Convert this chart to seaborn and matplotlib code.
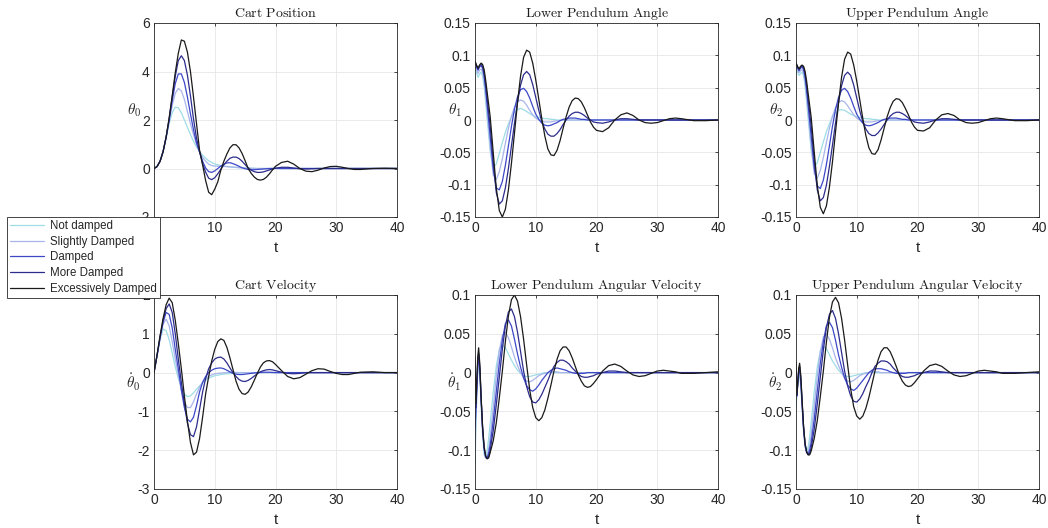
import matplotlib
matplotlib.use("Agg")
import matplotlib.pyplot as plt
import pandas as pd
import seaborn as sns
from matplotlib.lines import Line2D

# ---------------- data ----------------
SERIES = ["Not damped", "Slightly Damped", "Damped", "More Damped", "Excessively Damped"]
COLORS = ["#9fdde6", "#a9b5ea", "#3d48c8", "#2c2c8c", "#1a1a1a"]

X_TICKS = [0, 10, 20, 30, 40]

# time grids
T_CART = [0, 0.5, 1, 1.5, 2, 2.5, 3, 3.5, 4, 4.5, 5, 5.5, 6, 6.5, 7, 7.5, 8, 8.5, 9, 9.5, 10,
          10.5, 11, 11.5, 12, 12.5, 13, 13.5, 14, 14.5, 15, 15.5, 16, 16.5, 17, 17.5, 18,
          18.5, 19, 19.5, 20,
          21, 22, 23, 24, 25, 26, 27, 28, 29, 30, 31, 32, 33, 34,
          36, 38, 40]
T_ANG = [0, 0.25, 0.5, 0.75, 1, 1.25, 1.5, 1.75, 2, 2.5, 3, 3.5, 4, 4.5, 5, 5.5, 6, 6.5, 7,
         7.5, 8, 8.5, 9, 9.5, 10,
         10.5, 11, 11.5, 12, 12.5, 13, 13.5, 14, 14.5, 15, 15.5, 16, 16.5, 17, 17.5, 18,
         18.5, 19, 19.5, 20,
         21, 22, 23, 24, 25, 26, 27, 28, 29, 30, 31, 32, 33, 34,
         36, 38, 40]
T_RATE = [0, 0.15, 0.3, 0.45, 0.6, 0.8, 1, 1.25, 1.5, 1.75, 2, 2.25, 2.5,
          3, 3.5, 4, 4.5, 5, 5.5, 6, 6.5, 7, 7.5, 8, 8.5, 9, 9.5, 10,
          10.5, 11, 11.5, 12, 12.5, 13, 13.5, 14, 14.5, 15, 15.5, 16, 16.5, 17, 17.5, 18,
          18.5, 19, 19.5, 20,
          21, 22, 23, 24, 25, 26, 27, 28, 29, 30, 31, 32, 33, 34,
          36, 38, 40]

# Cart position theta_0
POS_ND = [0, 0.08, 0.3, 0.7, 1.25, 1.85, 2.3, 2.53, 2.5, 2.3, 2.0, 1.7, 1.4, 1.12, 0.88, 0.7,
          0.55, 0.42, 0.32, 0.25, 0.19,
          0.15, 0.12, 0.1, 0.08, 0.065, 0.05, 0.04, 0.03, 0.025, 0.02, 0.015, 0.01, 0.005,
          0, 0, 0, 0, 0, 0, 0,
          0, 0, 0, 0, 0, 0, 0, 0, 0, 0, 0, 0, 0, 0,
          0, 0, 0]
POS_SD = [0, 0.08, 0.3, 0.7, 1.28, 1.95, 2.6, 3.1, 3.3, 3.2, 2.85, 2.35, 1.85, 1.4, 1.0, 0.68,
          0.45, 0.3, 0.18, 0.12, 0.1,
          0.095, 0.09, 0.085, 0.08, 0.07, 0.06, 0.05, 0.04, 0.03, 0.02, 0.015, 0.01, 0.005,
          0, 0, 0, 0, 0, 0, 0,
          0, 0, 0, 0, 0, 0, 0, 0, 0, 0, 0, 0, 0, 0,
          0, 0, 0]
POS_D = [0, 0.08, 0.3, 0.7, 1.3, 2.0, 2.8, 3.5, 3.9, 3.9, 3.55, 2.95, 2.25, 1.6, 1.05, 0.68,
         0.3, 0.02, -0.13, -0.16, -0.1,
         0.0, 0.1, 0.18, 0.23, 0.24, 0.2, 0.15, 0.09, 0.03, -0.01, -0.04, -0.05, -0.05, -0.04,
         -0.03, -0.02, -0.01, 0.0, 0.0, 0.01,
         0, 0, 0, 0, 0, 0, 0, 0, 0, 0, 0, 0, 0, 0,
         0, 0, 0]
POS_MD = [0, 0.08, 0.3, 0.7, 1.3, 2.05, 2.95, 3.8, 4.45, 4.65, 4.45, 3.85, 3.0, 2.05, 1.25, 0.7,
          0.2, -0.15, -0.4, -0.46, -0.38,
          -0.22, -0.03, 0.15, 0.3, 0.42, 0.47, 0.47, 0.41, 0.3, 0.16, 0.03, -0.07, -0.13, -0.16,
          -0.16, -0.14, -0.1, -0.06, -0.02, 0.01,
          0.05, 0.05, 0.02, -0.01, -0.02, -0.01, 0, 0, 0, 0, 0, 0, 0, 0,
          0, 0, 0]
POS_ED = [0, 0.08, 0.3, 0.7, 1.3, 2.1, 3.0, 3.95, 4.75, 5.3, 5.25, 4.8, 4.0, 2.95, 1.85, 0.75,
          0.15, -0.5, -0.98, -1.08, -0.85,
          -0.55, -0.07, 0.3, 0.6, 0.85, 0.98, 0.98, 0.85, 0.62, 0.32, 0.0, -0.2, -0.35, -0.45,
          -0.48, -0.45, -0.36, -0.22, -0.06, 0.09,
          0.25, 0.3, 0.18, 0.0, -0.11, -0.13, -0.07, 0.02, 0.08, 0.09, 0.05, 0.0, -0.04, -0.04,
          0.0, 0.01, 0.0]

# Cart velocity theta_0 dot
VEL_ND = [0, 0.42, 0.85, 1.12, 1.08, 0.85, 0.5, 0.15, -0.15, -0.38, -0.55, -0.62, -0.6, -0.52,
          -0.43, -0.34, -0.27, -0.2, -0.15, -0.11, -0.08,
          -0.065, -0.05, -0.04, -0.03, -0.025, -0.02, -0.015, -0.01, -0.005,
          0, 0, 0, 0, 0, 0, 0, 0, 0, 0, 0,
          0, 0, 0, 0, 0, 0, 0, 0, 0, 0, 0, 0, 0, 0,
          0, 0, 0]
VEL_SD = [0, 0.43, 0.88, 1.25, 1.38, 1.2, 0.8, 0.35, -0.05, -0.45, -0.75, -0.9, -0.9, -0.75,
          -0.55, -0.38, -0.25, -0.16, -0.1, -0.06, -0.03,
          -0.02, -0.01, -0.005, 0, 0.005, 0.01, 0.005,
          0, 0, 0, 0, 0, 0, 0, 0, 0, 0, 0, 0, 0,
          0, 0, 0, 0, 0, 0, 0, 0, 0, 0, 0, 0, 0, 0,
          0, 0, 0]
VEL_D = [0, 0.44, 0.9, 1.3, 1.55, 1.5, 1.15, 0.6, 0.1, -0.45, -0.9, -1.2, -1.27, -1.15, -0.85,
         -0.5, -0.25, -0.1, 0.0, 0.06, 0.1,
         0.115, 0.12, 0.1, 0.06, 0.02, -0.02, -0.04, -0.05, -0.05, -0.04, -0.03, -0.02, -0.01,
         0.0, 0.005, 0.01, 0.01, 0.01, 0.005, 0,
         0, 0, 0, 0, 0, 0, 0, 0, 0, 0, 0, 0, 0, 0,
         0, 0, 0]
VEL_MD = [0, 0.45, 0.92, 1.35, 1.65, 1.77, 1.55, 1.0, 0.35, -0.25, -0.8, -1.3, -1.6, -1.65, -1.4,
          -0.95, -0.5, -0.15, 0.1, 0.25, 0.35,
          0.39, 0.4, 0.35, 0.25, 0.12, 0.0, -0.1, -0.18, -0.22, -0.23, -0.2, -0.15, -0.09,
          -0.03, 0.02, 0.05, 0.07, 0.08, 0.07, 0.05,
          0.01, -0.02, -0.03, -0.02, 0, 0, 0, 0, 0, 0, 0, 0, 0, 0,
          0, 0, 0]
VEL_ED = [0, 0.45, 0.95, 1.4, 1.75, 1.92, 1.8, 1.35, 0.75, 0.1, -0.6, -1.25, -1.8, -2.12, -2.05,
          -1.7, -1.15, -0.55, -0.1, 0.3, 0.6,
          0.8, 0.87, 0.83, 0.65, 0.38, 0.08, -0.22, -0.43, -0.54, -0.56, -0.5, -0.37, -0.2,
          -0.02, 0.14, 0.25, 0.3, 0.31, 0.28, 0.21,
          0.05, -0.1, -0.16, -0.13, -0.04, 0.05, 0.1, 0.09, 0.03, -0.02, -0.05, -0.05, -0.02,
          0.01,
          0.02, 0.0, 0.0]

# Lower pendulum angle theta_1
TH1_ND = [0.085, 0.073, 0.066, 0.071, 0.074, 0.068, 0.052, 0.028, 0.002, -0.048, -0.074, -0.068,
          -0.052, -0.035, -0.019, -0.006, 0.005, 0.012, 0.016, 0.018, 0.016, 0.013, 0.01, 0.007,
          0.005,
          0.004, 0.003, 0.002, 0.002, 0.001, 0.001, 0, 0, 0, 0, 0, 0, 0, 0, 0, 0, 0, 0, 0, 0,
          0, 0, 0, 0, 0, 0, 0, 0, 0, 0, 0, 0, 0, 0,
          0, 0, 0]
TH1_SD = [0.087, 0.078, 0.072, 0.077, 0.079, 0.074, 0.06, 0.038, 0.013, -0.04, -0.085, -0.092,
          -0.08, -0.06, -0.036, -0.013, 0.006, 0.02, 0.028, 0.031, 0.029, 0.023, 0.015, 0.008,
          0.003,
          0.0, -0.002, -0.003, -0.003, -0.003, -0.002, -0.001, -0.001, 0, 0, 0, 0, 0, 0, 0, 0,
          0, 0, 0, 0,
          0, 0, 0, 0, 0, 0, 0, 0, 0, 0, 0, 0, 0, 0,
          0, 0, 0]
TH1_D = [0.089, 0.082, 0.077, 0.082, 0.084, 0.08, 0.068, 0.048, 0.024, -0.025, -0.075, -0.105,
         -0.108, -0.095, -0.07, -0.04, -0.01, 0.017, 0.036, 0.047, 0.049, 0.044, 0.034, 0.021,
         0.009,
         0.001, -0.005, -0.008, -0.009, -0.008, -0.006, -0.004, -0.001, 0.001, 0.002, 0.003,
         0.003, 0.003, 0.002, 0.001, 0.001, 0, 0, 0, 0,
         0, 0, 0, 0, 0, 0, 0, 0, 0, 0, 0, 0, 0, 0,
         0, 0, 0]
TH1_MD = [0.09, 0.084, 0.079, 0.084, 0.086, 0.083, 0.073, 0.055, 0.033, -0.01, -0.065, -0.112,
          -0.13, -0.125, -0.105, -0.075, -0.04, -0.005, 0.028, 0.054, 0.07, 0.075, 0.07, 0.055,
          0.035,
          0.015, -0.003, -0.014, -0.022, -0.025, -0.025, -0.021, -0.015, -0.007, 0.0, 0.006,
          0.01, 0.012, 0.012, 0.01, 0.007, 0.003, 0.0, -0.003, -0.004,
          -0.005, -0.003, 0.0, 0.002, 0.002, 0.001, 0, 0, 0, 0, 0, 0, 0, 0,
          0, 0, 0]
TH1_ED = [0.091, 0.085, 0.08, 0.085, 0.088, 0.086, 0.078, 0.062, 0.043, 0.005, -0.05, -0.105,
          -0.14, -0.15, -0.138, -0.108, -0.067, -0.02, 0.027, 0.068, 0.097, 0.108, 0.105, 0.088,
          0.062,
          0.032, 0.002, -0.025, -0.045, -0.054, -0.055, -0.047, -0.032, -0.013, 0.005, 0.02,
          0.03, 0.034, 0.033, 0.028, 0.019, 0.008, -0.003, -0.011, -0.016,
          -0.018, -0.012, 0.0, 0.008, 0.011, 0.007, 0.0, -0.004, -0.005, -0.004, -0.001, 0.002,
          0.003, 0.002,
          -0.001, -0.001, 0.0]

# Upper pendulum angle theta_2
TH2_ND = [0.083, 0.074, 0.069, 0.072, 0.074, 0.068, 0.052, 0.028, 0.002, -0.047, -0.072, -0.066,
          -0.05, -0.034, -0.018, -0.006, 0.005, 0.011, 0.015, 0.016, 0.015, 0.012, 0.009, 0.007,
          0.005,
          0.004, 0.003, 0.002, 0.002, 0.001, 0.001, 0, 0, 0, 0, 0, 0, 0, 0, 0, 0, 0, 0, 0, 0,
          0, 0, 0, 0, 0, 0, 0, 0, 0, 0, 0, 0, 0, 0,
          0, 0, 0]
TH2_SD = [0.086, 0.078, 0.073, 0.076, 0.078, 0.073, 0.059, 0.037, 0.012, -0.04, -0.083, -0.09,
          -0.078, -0.058, -0.035, -0.013, 0.006, 0.019, 0.027, 0.03, 0.028, 0.022, 0.015, 0.008,
          0.003,
          0.0, -0.002, -0.003, -0.003, -0.003, -0.002, -0.001, -0.001, 0, 0, 0, 0, 0, 0, 0, 0,
          0, 0, 0, 0,
          0, 0, 0, 0, 0, 0, 0, 0, 0, 0, 0, 0, 0, 0,
          0, 0, 0]
TH2_D = [0.087, 0.081, 0.076, 0.08, 0.082, 0.078, 0.066, 0.046, 0.023, -0.025, -0.073, -0.102,
         -0.106, -0.093, -0.069, -0.04, -0.01, 0.016, 0.035, 0.046, 0.049, 0.044, 0.034, 0.021,
         0.009,
         0.001, -0.005, -0.008, -0.009, -0.008, -0.006, -0.004, -0.001, 0.001, 0.002, 0.003,
         0.003, 0.003, 0.002, 0.001, 0.001, 0, 0, 0, 0,
         0, 0, 0, 0, 0, 0, 0, 0, 0, 0, 0, 0, 0, 0,
         0, 0, 0]
TH2_MD = [0.088, 0.082, 0.078, 0.082, 0.084, 0.081, 0.071, 0.053, 0.032, -0.01, -0.063, -0.108,
          -0.125, -0.12, -0.101, -0.072, -0.039, -0.005, 0.027, 0.053, 0.069, 0.074, 0.069,
          0.054, 0.034,
          0.014, -0.003, -0.014, -0.021, -0.024, -0.024, -0.02, -0.014, -0.007, 0.0, 0.006,
          0.01, 0.012, 0.012, 0.01, 0.007, 0.003, 0.0, -0.003, -0.004,
          -0.005, -0.003, 0.0, 0.002, 0.002, 0.001, 0, 0, 0, 0, 0, 0, 0, 0,
          0, 0, 0]
TH2_ED = [0.088, 0.083, 0.079, 0.083, 0.085, 0.083, 0.075, 0.06, 0.041, 0.004, -0.049, -0.101,
          -0.135, -0.145, -0.133, -0.104, -0.065, -0.019, 0.026, 0.066, 0.094, 0.105, 0.102,
          0.085, 0.06,
          0.031, 0.002, -0.024, -0.043, -0.052, -0.053, -0.046, -0.031, -0.013, 0.005, 0.019,
          0.029, 0.033, 0.032, 0.027, 0.018, 0.008, -0.003, -0.011, -0.016,
          -0.017, -0.012, 0.0, 0.008, 0.01, 0.007, 0.0, -0.004, -0.005, -0.004, -0.001, 0.002,
          0.003, 0.002,
          -0.001, -0.001, 0.0]

# Lower pendulum angular velocity theta_1 dot
W1_ND = [-0.12, -0.07, -0.03, 0.0, 0.01, -0.005, -0.04, -0.08, -0.105, -0.11, -0.1, -0.085, -0.065,
         -0.025, 0.008, 0.03, 0.036, 0.032, 0.024, 0.016, 0.009, 0.003, -0.001, -0.004, -0.005,
         -0.005, -0.004, -0.003,
         -0.002, -0.001, 0, 0, 0, 0, 0, 0, 0, 0, 0, 0, 0, 0, 0, 0, 0, 0, 0, 0,
         0, 0, 0, 0, 0, 0, 0, 0, 0, 0, 0, 0, 0, 0,
         0, 0, 0]
W1_SD = [-0.1, -0.06, -0.025, 0.005, 0.015, 0.0, -0.035, -0.075, -0.1, -0.11, -0.108, -0.098,
         -0.083,
         -0.045, -0.005, 0.028, 0.048, 0.052, 0.045, 0.033, 0.02, 0.009, 0.0, -0.007, -0.011,
         -0.012, -0.01, -0.007,
         -0.004, -0.002, -0.001, 0.0, 0.001, 0.001, 0.001, 0, 0, 0, 0, 0, 0, 0, 0, 0, 0, 0, 0,
         0,
         0, 0, 0, 0, 0, 0, 0, 0, 0, 0, 0, 0, 0, 0,
         0, 0, 0]
W1_D = [-0.07, -0.05, -0.02, 0.01, 0.02, 0.003, -0.033, -0.072, -0.098, -0.109, -0.11, -0.104,
        -0.093,
        -0.062, -0.025, 0.012, 0.042, 0.063, 0.068, 0.06, 0.043, 0.024, 0.007, -0.007, -0.017,
        -0.022, -0.024, -0.021,
        -0.016, -0.01, -0.005, 0.0, 0.003, 0.005, 0.006, 0.005, 0.004, 0.003, 0.001, 0.0,
        -0.001, -0.001, -0.001, -0.001, 0, 0, 0, 0,
        0, 0, 0, 0, 0, 0, 0, 0, 0, 0, 0, 0, 0, 0,
        0, 0, 0]
W1_MD = [-0.04, -0.045, -0.015, 0.015, 0.025, 0.006, -0.032, -0.071, -0.097, -0.108, -0.111,
         -0.108, -0.1,
         -0.075, -0.042, -0.006, 0.03, 0.06, 0.078, 0.082, 0.072, 0.052, 0.027, 0.002, -0.018,
         -0.031, -0.038, -0.039,
         -0.035, -0.028, -0.019, -0.01, 0.0, 0.008, 0.013, 0.016, 0.016, 0.014, 0.011, 0.006,
         0.002, -0.002, -0.005, -0.006, -0.006, -0.005, -0.004, -0.002,
         0.0, 0.002, 0.002, 0.001, 0, 0, 0, 0, 0, 0, 0, 0, 0, 0,
         0, 0, 0]
W1_ED = [0.02, -0.04, -0.01, 0.02, 0.032, 0.01, -0.03, -0.07, -0.095, -0.107, -0.111, -0.11,
         -0.103,
         -0.088, -0.065, -0.033, 0.002, 0.04, 0.073, 0.094, 0.1, 0.092, 0.072, 0.043, 0.01,
         -0.022, -0.045, -0.058,
         -0.062, -0.058, -0.048, -0.033, -0.016, 0.002, 0.017, 0.028, 0.033, 0.033, 0.028,
         0.019, 0.008, -0.003, -0.011, -0.017, -0.019, -0.018, -0.014, -0.009,
         0.002, 0.009, 0.011, 0.008, 0.002, -0.003, -0.005, -0.004, -0.001, 0.002, 0.003,
         0.002, 0.001, -0.001,
         -0.001, 0.0, 0.001]

# Upper pendulum angular velocity theta_2 dot
W2_ND = [-0.045, -0.03, -0.015, -0.005, -0.004, -0.018, -0.045, -0.076, -0.096, -0.102, -0.096,
         -0.083, -0.064,
         -0.025, 0.007, 0.028, 0.034, 0.031, 0.023, 0.015, 0.009, 0.003, -0.001, -0.004, -0.005,
         -0.005, -0.004, -0.003,
         -0.002, -0.001, 0, 0, 0, 0, 0, 0, 0, 0, 0, 0, 0, 0, 0, 0, 0, 0, 0, 0,
         0, 0, 0, 0, 0, 0, 0, 0, 0, 0, 0, 0, 0, 0,
         0, 0, 0]
W2_SD = [-0.035, -0.028, -0.014, -0.002, 0.0, -0.015, -0.042, -0.074, -0.095, -0.104, -0.102,
         -0.094, -0.08,
         -0.043, -0.005, 0.027, 0.046, 0.05, 0.043, 0.032, 0.019, 0.009, 0.0, -0.007, -0.011,
         -0.012, -0.01, -0.007,
         -0.004, -0.002, -0.001, 0.0, 0.001, 0.001, 0.001, 0, 0, 0, 0, 0, 0, 0, 0, 0, 0, 0, 0,
         0,
         0, 0, 0, 0, 0, 0, 0, 0, 0, 0, 0, 0, 0, 0,
         0, 0, 0]
W2_D = [-0.025, -0.03, -0.013, 0.002, 0.004, -0.012, -0.04, -0.072, -0.094, -0.103, -0.105, -0.1,
        -0.09,
        -0.06, -0.024, 0.012, 0.04, 0.06, 0.065, 0.058, 0.042, 0.023, 0.007, -0.007, -0.016,
        -0.021, -0.023, -0.02,
        -0.015, -0.01, -0.005, 0.0, 0.003, 0.005, 0.005, 0.005, 0.004, 0.003, 0.001, 0.0,
        -0.001, -0.001, -0.001, -0.001, 0, 0, 0, 0,
        0, 0, 0, 0, 0, 0, 0, 0, 0, 0, 0, 0, 0, 0,
        0, 0, 0]
W2_MD = [-0.01, -0.03, -0.012, 0.004, 0.008, -0.008, -0.037, -0.07, -0.092, -0.102, -0.106,
         -0.104, -0.097,
         -0.073, -0.041, -0.006, 0.029, 0.058, 0.075, 0.08, 0.07, 0.05, 0.026, 0.002, -0.017,
         -0.03, -0.037, -0.038,
         -0.034, -0.027, -0.018, -0.01, 0.0, 0.008, 0.012, 0.015, 0.015, 0.014, 0.011, 0.006,
         0.002, -0.002, -0.005, -0.006, -0.006, -0.005, -0.004, -0.002,
         0.0, 0.002, 0.002, 0.001, 0, 0, 0, 0, 0, 0, 0, 0, 0, 0,
         0, 0, 0]
W2_ED = [0.013, -0.028, -0.012, 0.006, 0.012, -0.005, -0.035, -0.07, -0.092, -0.102, -0.106,
         -0.106, -0.101,
         -0.085, -0.062, -0.031, 0.002, 0.039, 0.071, 0.091, 0.097, 0.09, 0.07, 0.042, 0.01,
         -0.021, -0.044, -0.056,
         -0.06, -0.056, -0.046, -0.032, -0.015, 0.002, 0.016, 0.027, 0.032, 0.032, 0.027,
         0.018, 0.008, -0.003, -0.011, -0.016, -0.018, -0.017, -0.013, -0.008,
         0.002, 0.009, 0.011, 0.008, 0.002, -0.003, -0.005, -0.004, -0.001, 0.002, 0.003,
         0.002, 0.001, -0.001,
         -0.001, 0.0, 0.001]

# y ticks and labels
POS_TICKS = [-2, 0, 2, 4, 6]
POS_LABELS = ["-2", "0", "2", "4", "6"]
VEL_TICKS = [-3, -2, -1, 0, 1, 2]
VEL_LABELS = ["-3", "-2", "-1", "0", "1", "2"]
ANG_TICKS = [-0.15, -0.1, -0.05, 0, 0.05, 0.1, 0.15]
ANG_LABELS = ["-0.15", "-0.1", "-0.05", "0", "0.05", "0.1", "0.15"]
RATE_TICKS = [-0.15, -0.1, -0.05, 0, 0.05, 0.1]
RATE_LABELS = ["-0.15", "-0.1", "-0.05", "0", "0.05", "0.1"]

TITLES = ["Cart Position", "Lower Pendulum Angle", "Upper Pendulum Angle",
          "Cart Velocity", "Lower Pendulum Angular Velocity", "Upper Pendulum Angular Velocity"]
YLABELS = [r"$\theta_0$", r"$\theta_1$", r"$\theta_2$",
           r"$\dot{\theta}_0$", r"$\dot{\theta}_1$", r"$\dot{\theta}_2$"]

# ---------------- styling ----------------
sns.set_style("white")
plt.rcParams["font.family"] = ["Liberation Sans", "DejaVu Sans"]
plt.rcParams["mathtext.fontset"] = "cm"
plt.rcParams["axes.unicode_minus"] = False

W, H = 1048, 528
fig = plt.figure(figsize=(W / 100, H / 100), dpi=100)

LEFTS = [154, 475, 796]
TOPS = [23, 295]
AW, AH = 243, 194

panels = [
    (T_CART, [POS_ND, POS_SD, POS_D, POS_MD, POS_ED], POS_TICKS, POS_LABELS, (-2, 6)),
    (T_ANG, [TH1_ND, TH1_SD, TH1_D, TH1_MD, TH1_ED], ANG_TICKS, ANG_LABELS, (-0.15, 0.15)),
    (T_ANG, [TH2_ND, TH2_SD, TH2_D, TH2_MD, TH2_ED], ANG_TICKS, ANG_LABELS, (-0.15, 0.15)),
    (T_CART, [VEL_ND, VEL_SD, VEL_D, VEL_MD, VEL_ED], VEL_TICKS, VEL_LABELS, (-3, 2)),
    (T_RATE, [W1_ND, W1_SD, W1_D, W1_MD, W1_ED], RATE_TICKS, RATE_LABELS, (-0.15, 0.1)),
    (T_RATE, [W2_ND, W2_SD, W2_D, W2_MD, W2_ED], RATE_TICKS, RATE_LABELS, (-0.15, 0.1)),
]

for i, (t, series, yt, yl, ylim) in enumerate(panels):
    r, c = divmod(i, 3)
    ax = fig.add_axes([LEFTS[c] / W, 1 - (TOPS[r] + AH) / H, AW / W, AH / H])
    frames = [pd.DataFrame({"t": t, "value": vals, "series": name})
              for name, vals in zip(SERIES, series)]
    df = pd.concat(frames, ignore_index=True)
    sns.lineplot(data=df, x="t", y="value", hue="series", hue_order=SERIES,
                 palette=COLORS, ax=ax, legend=False, linewidth=0.9,
                 sort=False, estimator=None)
    ax.set_xlim(0, 40)
    ax.set_ylim(*ylim)
    ax.set_xticks(X_TICKS)
    ax.set_xticklabels([str(v) for v in X_TICKS])
    ax.set_yticks(yt)
    ax.set_yticklabels(yl)
    ax.grid(True, color="#e6e6e6", linewidth=0.6)
    ax.set_axisbelow(True)
    ax.set_title(r"$\mathrm{" + TITLES[i].replace(" ", r"\ ") + "}$",
                 fontsize=10, pad=4, color="#1a1a1a")
    ax.set_xlabel("t", fontsize=11, color="#262626", labelpad=4)
    ax.set_ylabel(YLABELS[i], rotation=0, fontsize=11, color="#262626",
                  ha="right", va="center")
    ax.yaxis.set_label_coords(-0.055, 0.55)
    for s in ax.spines.values():
        s.set_color("#262626")
        s.set_linewidth(0.6)
    ax.tick_params(direction="in", length=2.5, width=0.6, top=True, right=True,
                   labelsize=10, colors="#262626", pad=3)

handles = [Line2D([], [], color=col, linewidth=0.9) for col in COLORS]
leg = fig.legend(handles, SERIES, loc="upper left",
                 bbox_to_anchor=(7 / W, 1 - 217 / H), bbox_transform=fig.transFigure,
                 frameon=True, fancybox=False, framealpha=1, edgecolor="#262626",
                 fontsize=8.3, handlelength=3.0, labelspacing=0.33, borderpad=0.25,
                 handletextpad=0.5, borderaxespad=0)
leg.get_frame().set_linewidth(0.6)

fig.savefig("out.png", dpi=100)
